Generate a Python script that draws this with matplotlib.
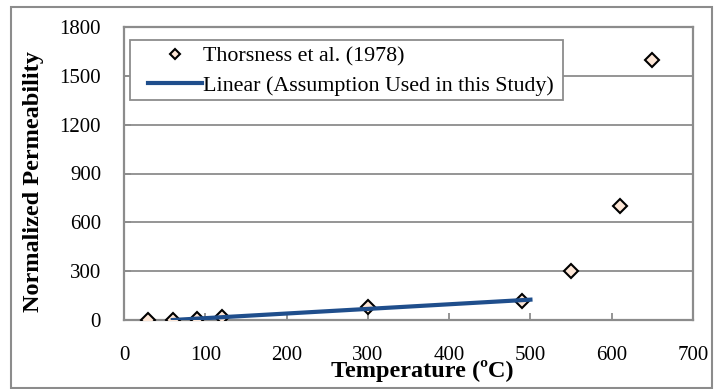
import matplotlib
matplotlib.use("Agg")
import matplotlib.pyplot as plt
from matplotlib.patches import Rectangle

# measured data (Thorsness et al. 1978)
temp = [30, 60, 90, 120, 300, 490, 550, 610, 650]
perm = [0, 2, 5, 20, 78, 118, 300, 700, 1600]

# linear assumption
lin_temp = [60, 500]
lin_perm = [0, 125]

plt.rcParams['font.family'] = ['Liberation Serif', 'DejaVu Serif']
grey = '#8c8c8c'

fig = plt.figure(figsize=(7.14, 3.89), dpi=100)
ax = fig.add_axes([124 / 714, 1 - 320 / 389, 569 / 714, 293 / 389])

ax.plot(temp, perm, linestyle='none', marker='D', markersize=7.5,
        markerfacecolor='#fde6d6', markeredgecolor='black', markeredgewidth=1.5,
        label='Thorsness et al. (1978)', zorder=3)
ax.plot(lin_temp, lin_perm, color='#1f4e8c', linewidth=3,
        label='Linear (Assumption Used in this Study)', zorder=4)

ax.set_xlim(0, 700)
ax.set_ylim(0, 1800)
ax.set_xticks(range(0, 701, 100))
ax.set_yticks(range(0, 1801, 300))
ax.yaxis.grid(True, color=grey, linewidth=1.3)
ax.set_axisbelow(True)
for s in ax.spines.values():
    s.set_color(grey)
    s.set_linewidth(1.6)
ax.tick_params(direction='in', length=5, width=1.3, color=grey,
               labelsize=15, pad=16.5)
ax.tick_params(axis='x', pad=19)

ax.set_xlabel('Temperature (ºC)', fontsize=17.5, fontweight='bold')
ax.xaxis.set_label_coords(0.524, -0.135)
ax.set_ylabel('Normalized Permeability', fontsize=17.5, fontweight='bold')
ax.yaxis.set_label_coords(-0.141, 0.473)

# legend box drawn separately so its padding can differ per side
ax.add_patch(Rectangle((0.0105, 0.751), 0.761, 0.205, transform=ax.transAxes,
                       facecolor='white', edgecolor=grey, linewidth=1.3, zorder=5))
leg = ax.legend(loc='upper left', bbox_to_anchor=(0.042, 0.935), fontsize=15.8,
                frameon=False, borderaxespad=0, borderpad=0, markerscale=0.65,
                handlelength=2.45, labelspacing=0.4, handletextpad=0.05)
leg.set_zorder(6)

# outer chart border
fig.patches.append(Rectangle((11 / 714, 0.002), 701 / 714, 1 - 7 / 389 - 0.002,
                             transform=fig.transFigure, fill=False,
                             edgecolor=grey, linewidth=1.5))

fig.savefig('out.png', dpi=100)
